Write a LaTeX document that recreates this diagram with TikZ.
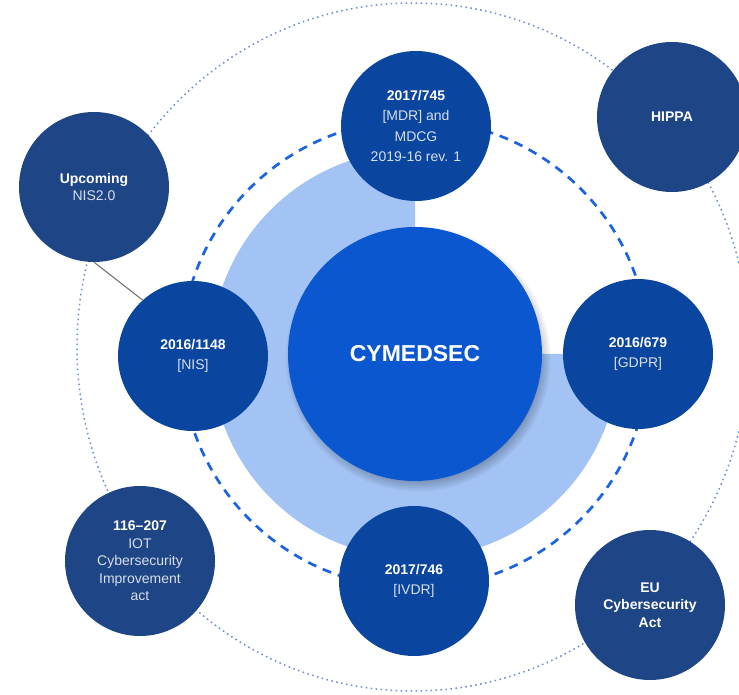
\documentclass[tikz,border=0pt]{standalone}
\usepackage{fontspec}
\setmainfont{Liberation Sans}
\usepackage{xcolor}
\usepackage{tikz}
\usetikzlibrary{shapes, arrows}

\definecolor{coreblue}{HTML}{0B57D0}
\definecolor{lawblue}{HTML}{0A45A0}
\definecolor{outerblue}{HTML}{1E4585}
\definecolor{ringblue}{HTML}{A3C3F5}
\definecolor{dashblue}{HTML}{1B63E0}
\definecolor{dotblue}{HTML}{6A8AD0}
\definecolor{softtext}{HTML}{D8DEEA}

\newcommand{\hd}[1]{\textcolor{white}{\bfseries #1}}

\begin{document}
\begin{tikzpicture}[x=1pt,y=1pt,
            core node/.style={circle,fill=coreblue,minimum size=254pt,inner sep=0pt,
              text=white,font=\fontsize{23}{28}\selectfont\bfseries},
            law node/.style={circle,fill=lawblue,minimum size=150pt,inner sep=0pt,align=center,
              text=softtext,font=\fontsize{14}{20.5}\selectfont},
            outer node/.style={circle,fill=outerblue,minimum size=150pt,inner sep=0pt,align=center,
              text=softtext,font=\fontsize{14}{17.5}\selectfont}]

        \useasboundingbox (0,0) rectangle (739,694);

        % rings behind the circles
        \coordinate (c) at (415,340);
        \draw[dotblue, line width=1.5pt, dash pattern=on 1.5pt off 3.5pt]
            (413,347) ellipse [x radius=336pt, y radius=344pt];
        \fill[ringblue] (c) -- ++(90:204pt) arc[start angle=90, end angle=360, radius=204pt] -- cycle;
        \draw[dashblue, line width=2.7pt, dash pattern=on 9pt off 7pt] (c) circle [radius=234pt];

        % soft shadow of the core
        \foreach \k in {0,...,9}
            \fill[black, opacity=0.035] ([xshift=3pt,yshift=-5pt]c) circle [radius=118pt+\k*1.6pt];

        \node[core node] (core) at (c) {CYMEDSEC};

        \node[law node] (mdr) at (416,568) {\hd{2017/745}\\{}[MDR] and\\MDCG\\2019-16 rev. 1};
        \node[law node] (nis) at (193,338) {\hd{2016/1148}\\{}[NIS]};
        \node[law node] (gdpr) at (638,340) {\hd{2016/679}\\{}[GDPR]};
        \node[law node] (ivdr) at (414,113) {\hd{2017/746}\\{}[IVDR]};

        \node[outer node] (nis2) at (94,507) {\hd{Upcoming}\\NIS2.0};
        \node[outer node] (hippa) at (672,577) {\hd{HIPPA}};
        \node[outer node] (iot) at (140,133) {\hd{116--207}\\IOT\\Cybersecurity\\Improvement\\act};
        \node[outer node] (eucsa) at (650,89) {\hd{EU}\\\hd{Cybersecurity}\\\hd{Act}};

        \draw[gray!90!black, line width=1.1pt] (nis2.south) -- (nis.132);
    \end{tikzpicture}
\end{document}
